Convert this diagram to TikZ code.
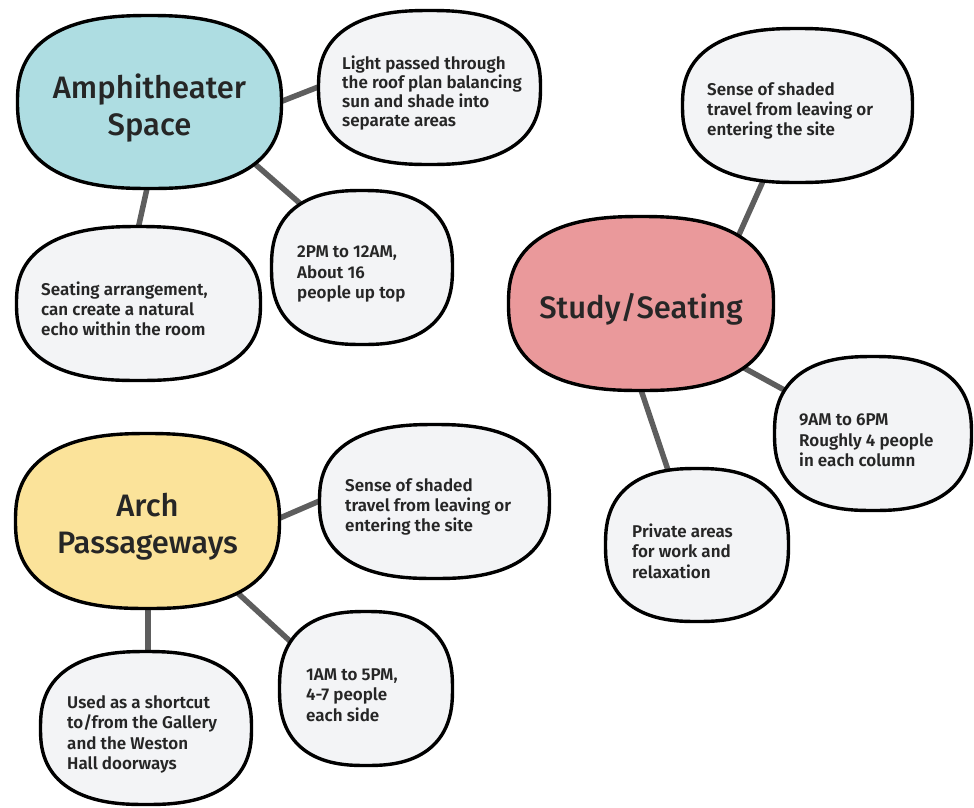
\documentclass[tikz,border=0pt]{standalone}
\usepackage{fontspec}
\setmainfont{Fira Sans Medium}
\newfontfamily\leaffont{Fira Sans SemiBold}
\definecolor{txt}{HTML}{262626}
\definecolor{amphc}{HTML}{AEDDE2}
\definecolor{studyc}{HTML}{EA999B}
\definecolor{archc}{HTML}{FBE39A}
\definecolor{leafc}{HTML}{F3F4F6}
\definecolor{linkc}{HTML}{5E5E5E}
\pgfdeclarelayer{conn}
\pgfdeclarelayer{shapes}
\pgfsetlayers{conn,shapes,main}
\tikzset{
  base/.style={text=txt, inner sep=0pt, align=left},
  hub/.style={base, font=\fontsize{31}{37}\selectfont, align=center},
  leaf/.style={base, anchor=west, font=\leaffont\fontsize{17}{20.3}\selectfont},
  link/.style={draw=linkc, line width=5.5pt},
  blobline/.style={draw=black, line width=3.4pt},
}
% superellipse outline: centre x, centre y, half width, half height, fill
\newcommand\sblob[5]{%
  \draw[blobline, fill=#5] plot[domain=1.5:361.5, samples=121, variable=\t]
    ({#1+#3*sign(cos(\t))*abs(cos(\t))^(0.8)},{#2+#4*sign(sin(\t))*abs(sin(\t))^(0.8)}) -- cycle;}
\begin{document}
\begin{tikzpicture}[x=1pt,y=-1pt]
\useasboundingbox (0,0) rectangle (974,807);
% hubs
\node[hub] (amph) at (149.5,108) {Amphitheater\\Space};
\node[hub] (study) at (641,309) {Study/Seating};
\node[hub] (arch) at (147.5,527) {Arch\\Passageways};
% leaves
\node[leaf, font=\leaffont\fontsize{17}{18.8}\selectfont] (light) at (342,93) {Light passed through\\the roof plan balancing\\sun and shade into\\separate areas};
\node[leaf] (pm2) at (297,274) {2PM to 12AM,\\About 16\\people up top};
\node[leaf] (seat) at (41,309) {Seating arrangement,\\can create a natural\\echo within the room};
\node[leaf] (tsense) at (707,111) {Sense of shaded\\travel from leaving or\\entering the site};
\node[leaf] (am9) at (799,440.5) {9AM to 6PM\\Roughly 4 people\\in each column};
\node[leaf] (priv) at (632,551) {Private areas\\for work and\\relaxation};
\node[leaf] (bsense) at (345,507) {Sense of shaded\\travel from leaving or\\entering the site};
\node[leaf] (am1) at (306,695) {1AM to 5PM,\\4-7 people\\each side};
\node[leaf] (used) at (67,734.5) {Used as a shortcut\\to/from the Gallery\\and the Weston\\Hall doorways};
% shapes
\begin{pgfonlayer}{shapes}
\sblob{149.5}{102}{132}{86.5}{amphc}
\sblob{641}{303.5}{132.5}{87}{studyc}
\sblob{147.5}{521}{132}{87.5}{archc}
\sblob{429.5}{87.5}{111}{77}{leafc}
\sblob{362}{267.5}{90.5}{77}{leafc}
\sblob{138.5}{303.5}{122}{77}{leafc}
\sblob{797.5}{105.5}{115}{77}{leafc}
\sblob{873}{433.5}{98.5}{77}{leafc}
\sblob{697}{545}{91.5}{76.5}{leafc}
\sblob{434.5}{501.5}{115}{77}{leafc}
\sblob{366}{688.5}{86.5}{77}{leafc}
\sblob{146}{728}{105.5}{76.5}{leafc}
\end{pgfonlayer}
% connectors (end points given relative to the node anchors)
\begin{pgfonlayer}{conn}
\draw[link] ([shift={(112.5,1)}]amph.center) -- ([shift={(-6,-13)}]light.west);
\draw[link] ([shift={(97.5,49)}]amph.center) -- ([shift={(14,-61)}]pm2.west);
\draw[link] ([shift={(0.5,67)}]amph.center) -- ([shift={(95,-71)}]seat.west);
\draw[link] ([shift={(92,-61)}]study.center) -- ([shift={(61,59)}]tsense.west);
\draw[link] ([shift={(94,54)}]study.center) -- ([shift={(-1,-43)}]am9.west);
\draw[link] ([shift={(-4,69)}]study.center) -- ([shift={(40,-69)}]priv.west);
\draw[link] ([shift={(118.5,-3)}]arch.center) -- ([shift={(-14,-11)}]bsense.west);
\draw[link] ([shift={(81.5,58)}]arch.center) -- ([shift={(-2,-41)}]am1.west);
\draw[link] ([shift={(0.5,68)}]arch.center) -- ([shift={(81,-69.5)}]used.west);
\end{pgfonlayer}
\end{tikzpicture}
\end{document}
